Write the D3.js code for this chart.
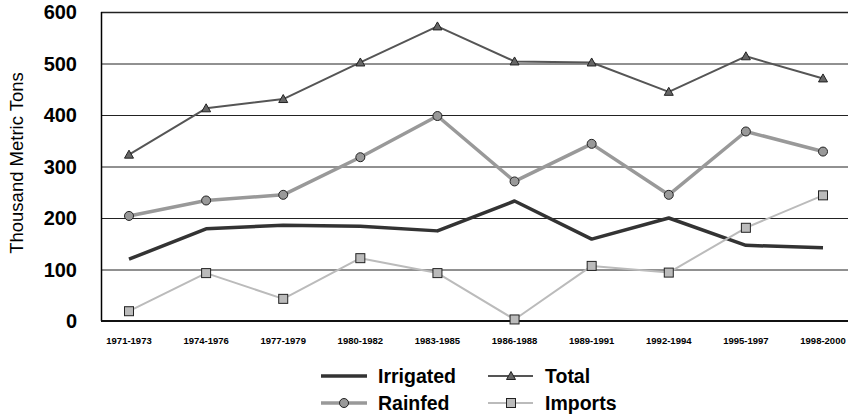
<!DOCTYPE html>
<html>
  <head>
    <meta charset="utf-8">
    <title>Production and imports</title>
    <script src="https://cdn.jsdelivr.net/npm/d3@7"></script>
    <style>
      body { margin: 0; background: #fff; }
      svg { display: block; font-family: "Liberation Sans", Arial, sans-serif; }
      .yTick { font-size: 20px; font-weight: bold; }
      .xTick { font-size: 9.5px; font-weight: bold; }
      .legend text { font-size: 19.5px; font-weight: bold; }
    </style>
  </head>
  <body>
    <svg id="chart" width="848" height="417"></svg>

    <script>
      // data
      periods = ["1971-1973", "1974-1976", "1977-1979", "1980-1982", "1983-1985",
                 "1986-1988", "1989-1991", "1992-1994", "1995-1997", "1998-2000"];
      irrigated = [120, 179, 186, 184, 175, 233, 159, 200, 147, 142];
      rainfed = [204, 234, 245, 318, 398, 271, 344, 245, 368, 329];
      total = [323, 413, 431, 502, 572, 504, 502, 445, 514, 471];
      imports = [19, 93, 43, 122, 93, 3, 107, 94, 181, 244];
      yTicks = [0, 100, 200, 300, 400, 500, 600];

      chart = d3.select("#chart");

      margin = { top: 12, right: 0, bottom: 96, left: 101 };
      width = 848;
      height = 417;

      scaleX = d3.scalePoint()
        .domain(periods)
        .range([129, 823]);

      scaleY = d3.scaleLinear()
        .domain([0, 600])
        .range([height - margin.bottom, margin.top]);

      // gridlines
      chart.append("g")
        .selectAll("line")
          .data(yTicks.filter(d => d > 0))
        .enter().append("line")
          .attr("x1", margin.left)
          .attr("x2", width - margin.right)
          .attr("y1", d => scaleY(d) + .5)
          .attr("y2", d => scaleY(d) + .5)
          .attr("stroke", "#222")
          .attr("stroke-width", d => d == 600 ? 1.5 : 1);

      // axes
      chart.append("line")
        .attr("x1", margin.left + .5)
        .attr("x2", margin.left + .5)
        .attr("y1", margin.top)
        .attr("y2", scaleY(0))
        .attr("stroke", "#000")
        .attr("stroke-width", 1.5);
      chart.append("line")
        .attr("x1", margin.left)
        .attr("x2", width)
        .attr("y1", scaleY(0))
        .attr("y2", scaleY(0))
        .attr("stroke", "#111")
        .attr("stroke-width", 2);

      chart.append("g")
        .selectAll("text")
          .data(yTicks)
        .enter().append("text")
          .classed("yTick", true)
          .attr("x", 77)
          .attr("y", d => scaleY(d) + 7)
          .attr("text-anchor", "end")
          .text(d => d);

      chart.append("g")
        .selectAll("text")
          .data(periods)
        .enter().append("text")
          .classed("xTick", true)
          .attr("x", d => scaleX(d))
          .attr("y", 344)
          .attr("text-anchor", "middle")
          .text(d => d);

      chart.append("text")
        .attr("transform", "translate(23, 163) rotate(-90)")
        .attr("text-anchor", "middle")
        .style("font-size", "18.5px")
        .text("Thousand Metric Tons");

      // series
      series = [
        { name: "Irrigated", values: irrigated, color: "#333", width: 3.5, marker: null, fill: null },
        { name: "Rainfed", values: rainfed, color: "#999", width: 3.5, marker: "circle", fill: "#999" },
        { name: "Total", values: total, color: "#555", width: 2, marker: "triangle", fill: "#666" },
        { name: "Imports", values: imports, color: "#bbb", width: 2, marker: "square", fill: "#bbb" }
      ];

      line = d3.line()
        .x((d, i) => scaleX(periods[i]))
        .y(d => scaleY(d));

      function drawMarker(g, type, fill) {
        if (type == "circle") {
          g.append("circle").attr("r", 4.5);
        } else if (type == "triangle") {
          g.append("path").attr("d", "M0,-4.5L4.5,3.5L-4.5,3.5Z");
        } else if (type == "square") {
          g.append("rect").attr("x", -4.5).attr("y", -4.5).attr("width", 9).attr("height", 9);
        }
        g.selectAll("*")
          .attr("fill", fill)
          .attr("stroke", "#222")
          .attr("stroke-width", 1);
      }

      series.forEach(function(s) {
        chart.append("path")
          .datum(s.values)
          .attr("d", line)
          .attr("fill", "none")
          .attr("stroke", s.color)
          .attr("stroke-width", s.width)
          .attr("stroke-linejoin", "round");
        if (s.marker) {
          s.values.forEach(function(v, i) {
            let g = chart.append("g")
              .attr("transform", "translate(" + scaleX(periods[i]) + "," + scaleY(v) + ")");
            drawMarker(g, s.marker, s.fill);
          });
        }
      });

      // legend
      legendPos = [
        { x: 321, y: 376 },
        { x: 321, y: 403 },
        { x: 488, y: 376 },
        { x: 488, y: 403 }
      ];

      legend = chart.append("g").classed("legend", true);
      series.forEach(function(s, i) {
        let p = legendPos[i];
        let g = legend.append("g").attr("transform", "translate(" + p.x + "," + p.y + ")");
        g.append("line")
          .attr("x1", 0).attr("x2", s.width > 3 ? 46 : 45)
          .attr("y1", 0).attr("y2", 0)
          .attr("stroke", s.color)
          .attr("stroke-width", s.width);
        if (s.marker) {
          let m = g.append("g").attr("transform", "translate(" + (s.width > 3 ? 23 : 23) + ",0)");
          drawMarker(m, s.marker, s.fill);
        }
        g.append("text")
          .attr("x", s.width > 3 ? 57 : 57)
          .attr("y", 7)
          .text(s.name);
      });
    </script>
  </body>
</html>
